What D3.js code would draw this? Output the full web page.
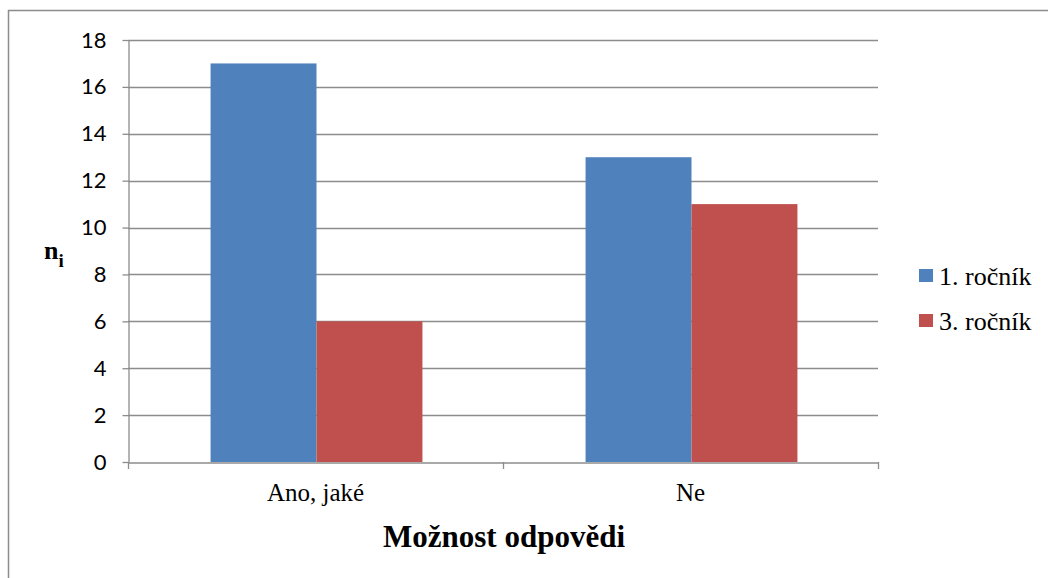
<!DOCTYPE html>
<html>
<head>
<meta charset="utf-8">
<script src="https://cdn.jsdelivr.net/npm/d3@7"></script>
<style>
body { margin: 0; background: #fff; }
</style>
</head>
<body>
<svg width="1048" height="578"></svg>
<script>
var categories = ["Ano, jaké", "Ne"],
    seriesNames = ["1. ročník", "3. ročník"],
    series1 = [17, 13],
    series3 = [6, 11],
    yTicks = [0, 2, 4, 6, 8, 10, 12, 14, 16, 18];

var svg = d3.select("svg"),
    colors = ["#4f81bd", "#c0504d"],
    gridColor = "#8c8c8c",
    serif = "'Liberation Serif', 'Times New Roman', serif",
    plotLeft = 128, plotRight = 878, plotTop = 40, plotBottom = 462;

// outer frame (only left/top visible in the picture)
svg.append("rect")
    .attr("x", 8.5).attr("y", 10.5)
    .attr("width", 1100).attr("height", 700)
    .attr("fill", "none")
    .attr("stroke", "#8c8c8c")
    .attr("stroke-width", 1.5);

var x = d3.scaleBand().domain(categories).range([plotLeft, plotRight]);
var xs = d3.scaleBand().domain([0, 1]).range([0, x.bandwidth()]).paddingInner(0).paddingOuter(0.77);
var y = d3.scaleLinear().domain([0, 18]).range([plotBottom, plotTop]);

// gridlines
svg.append("g").selectAll("line")
    .data(yTicks.filter(function(d) { return d > 0; }))
    .enter().append("line")
    .attr("x1", plotLeft).attr("x2", plotRight)
    .attr("y1", function(d) { return Math.round(y(d)) + 0.5; })
    .attr("y2", function(d) { return Math.round(y(d)) + 0.5; })
    .attr("stroke", gridColor).attr("stroke-width", 1.3);

// bars
var rows = categories.map(function(c, i) { return { cat: c, vals: [series1[i], series3[i]] }; });
var groups = svg.append("g").selectAll("g")
    .data(rows).enter().append("g")
    .attr("transform", function(d) { return "translate(" + (x(d.cat) + 1) + ",0)"; });
groups.selectAll("rect")
    .data(function(d) { return d.vals; })
    .enter().append("rect")
    .attr("x", function(d, i) { return xs(i); })
    .attr("width", xs.bandwidth())
    .attr("y", function(d) { return y(d); })
    .attr("height", function(d) { return plotBottom - y(d); })
    .attr("fill", function(d, i) { return colors[i]; });

// y axis
var yAxis = svg.append("g")
    .attr("transform", "translate(" + (plotLeft + 0.5) + ",0)")
    .call(d3.axisLeft(y).tickValues(yTicks).tickSize(6).tickSizeOuter(0).tickPadding(16));
yAxis.select(".domain").attr("stroke", gridColor).attr("stroke-width", 1.3);
yAxis.selectAll(".tick line").attr("stroke", gridColor).attr("stroke-width", 1.3);
yAxis.selectAll("text")
    .attr("font-family", "Lato, 'Open Sans', sans-serif")
    .attr("font-size", "22px").attr("fill", "#000");

// x axis
var xAxis = svg.append("g")
    .attr("transform", "translate(0," + (plotBottom + 0.5) + ")")
    .call(d3.axisBottom(x).tickSize(0).tickPadding(0));
xAxis.select(".domain").attr("stroke", gridColor).attr("stroke-width", 1.3);
xAxis.selectAll("text")
    .attr("dy", null).attr("y", 38)
    .attr("font-family", serif)
    .attr("font-size", "25px").attr("fill", "#000");
svg.append("g").selectAll("line")
    .data([plotLeft, plotLeft + x.bandwidth(), plotRight])
    .enter().append("line")
    .attr("x1", function(d) { return d + 0.5; }).attr("x2", function(d) { return d + 0.5; })
    .attr("y1", plotBottom).attr("y2", plotBottom + 7)
    .attr("stroke", gridColor).attr("stroke-width", 1.3);

// axis titles
svg.append("text")
    .attr("x", 504).attr("y", 547)
    .attr("text-anchor", "middle")
    .attr("font-family", serif)
    .attr("font-weight", "bold").attr("font-size", "31px")
    .text("Možnost odpovědi");

var ni = svg.append("text")
    .attr("x", 44).attr("y", 259)
    .attr("font-family", serif)
    .attr("font-weight", "bold").attr("font-size", "26px");
ni.append("tspan").text("n");
ni.append("tspan").attr("dy", 8).attr("font-size", "19px").text("i");

// legend
var legend = svg.append("g").selectAll("g")
    .data(seriesNames).enter().append("g")
    .attr("transform", function(d, i) { return "translate(919," + (269 + i * 45) + ")"; });
legend.append("rect")
    .attr("width", 14).attr("height", 13)
    .attr("fill", function(d, i) { return colors[i]; });
legend.append("text")
    .attr("x", 20).attr("y", 16)
    .attr("font-family", serif)
    .attr("font-size", "26px")
    .text(function(d) { return d; });
</script>
</body>
</html>
